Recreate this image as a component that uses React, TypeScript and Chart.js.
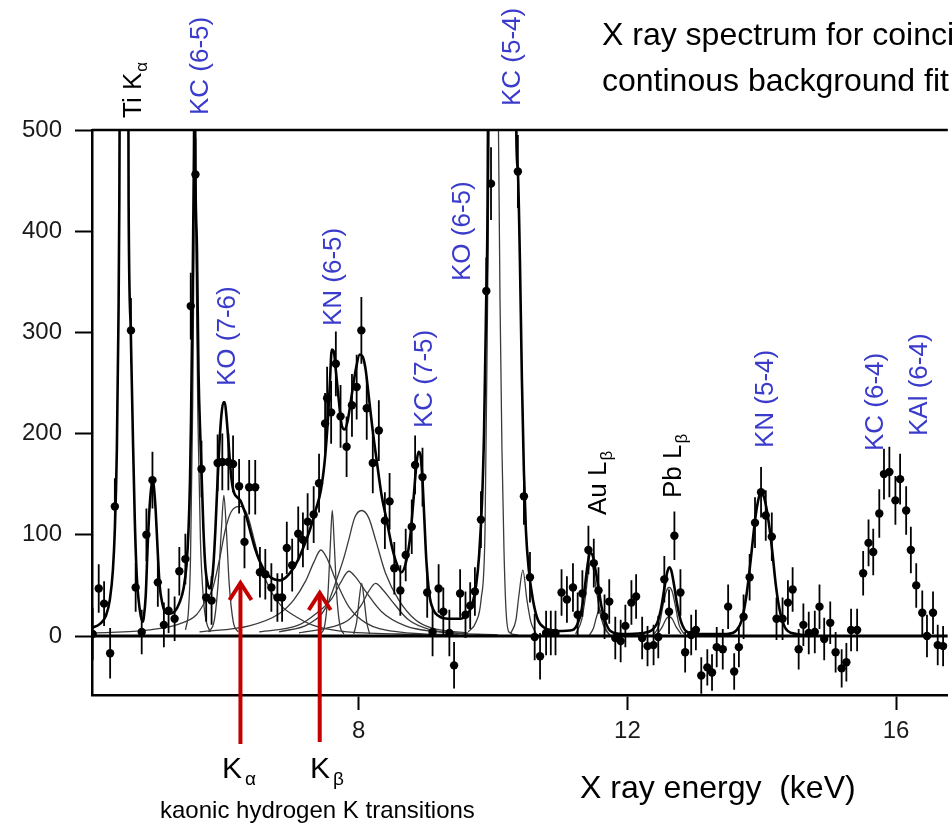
import React, { useEffect, useRef } from 'react';
import { Chart, registerables } from 'chart.js';

Chart.register(...registerables);

const FONT = '"Liberation Sans", Arial, Helvetica, sans-serif';
const BLUE = '#3a3acb';
const RED = '#c40000';

// ---- axes ----
const X_MIN = 4.03;
const X_MAX = 16.77;
const Y_MIN = -58.3;
const Y_MAX = 500;
const xTickValues = [8, 12, 16];
const yTickValues = [0, 100, 200, 300, 400, 500];

// ---- measured spectrum (energy keV, counts, error) ----
const energies = [
  4.04, 4.13, 4.21, 4.30, 4.37, 4.61, 4.68, 4.77, 4.84, 4.93, 5.01, 5.10, 5.17, 5.26, 5.33, 5.42,
  5.50, 5.57, 5.66, 5.73, 5.81, 5.90, 5.97, 6.06, 6.13, 6.22, 6.30, 6.37, 6.46, 6.53, 6.61, 6.70,
  6.79, 6.86, 6.93, 7.01, 7.10, 7.17, 7.24, 7.33, 7.41, 7.50, 7.53, 7.59, 7.66, 7.73, 7.82, 7.90,
  7.97, 8.04, 8.12, 8.21, 8.30, 8.39, 8.46, 8.53, 8.62, 8.70, 8.79, 8.84, 8.95, 9.02, 9.10, 9.19,
  9.26, 9.35, 9.42, 9.51, 9.59, 9.66, 9.73, 9.82, 9.90, 9.97, 10.37, 10.46, 10.55, 10.62, 10.70,
  10.79, 10.86, 10.93, 11.02, 11.10, 11.19, 11.26, 11.33, 11.42, 11.50, 11.57, 11.66, 11.73, 11.82,
  11.90, 11.97, 12.06, 12.13, 12.22, 12.30, 12.39, 12.46, 12.55, 12.62, 12.70, 12.79, 12.86, 12.95,
  13.02, 13.10, 13.19, 13.26, 13.33, 13.42, 13.50, 13.59, 13.66, 13.73, 13.82, 13.90, 13.99, 14.06,
  14.15, 14.22, 14.31, 14.39, 14.46, 14.55, 14.62, 14.70, 14.79, 14.86, 14.93, 15.02, 15.10, 15.19,
  15.26, 15.33, 15.42, 15.51, 15.59, 15.66, 15.75, 15.82, 15.90, 15.99, 16.06, 16.15, 16.22, 16.30,
  16.39, 16.46, 16.55, 16.62, 16.70,
];
const counts = [
  2, 47, 32, -17, 128, 302, 48, 4, 100, 154, 53, 11, 25, 17, 64, 76,
  326, 456, 165, 38, 35, 171, 172, 172, 170, 148, 93, 147, 147, 63, 61, 48,
  38, 38, 87, 70, 101, 95, 113, 120, 151, 210, 235, 221, 269, 217, 187, 228,
  246, 302, 225, 171, 203, 114, 133, 67, 45, 80, 108, 169, 157, 43, 4, 47,
  24, 3, -29, 42, 21, 30, 44, 115, 341, 447, 459, 138, 58, -1, -20,
  3, 3, 3, 43, 36, 48, 21, 42, 85, 72, 45, 19, 34, -2,
  -5, 10, 33, 39, -2, -10, -9, -1, 56, 24, 99, 43, -16, 1,
  6, -39, -31, -36, -11, -13, 29, -35, -11, 19, 58, 112, 142, 119,
  98, 17, 17, 33, 46, -13, 11, 3, 4, 29, -3, 13, -16, -32,
  -26, 6, 6, 62, 92, 83, 121, 160, 162, 134, 155, 124, 85, 50,
  23, 0, 23, -9, -10,
];
const errors = [
  26, 24, 22, 25, 28, 32, 24, 22, 26, 28, 24, 22, 22, 22, 24, 25,
  33, 36, 28, 24, 24, 28, 28, 28, 28, 27, 26, 27, 27, 25, 25, 24,
  24, 24, 26, 26, 27, 27, 28, 28, 29, 30, 31, 31, 32, 31, 30, 31,
  32, 33, 31, 30, 30, 28, 28, 26, 25, 26, 27, 29, 29, 25, 24, 24,
  24, 23, 23, 24, 23, 23, 24, 28, 33, 36, 36, 28, 25, 23, 23,
  22, 22, 22, 23, 23, 24, 22, 23, 24, 24, 23, 22, 22, 21,
  21, 21, 22, 22, 21, 20, 20, 21, 23, 22, 24, 23, 20, 20,
  20, 18, 18, 18, 20, 20, 22, 18, 20, 22, 23, 25, 25, 25,
  24, 21, 21, 22, 22, 20, 21, 21, 21, 22, 21, 21, 20, 19,
  19, 21, 21, 22, 23, 23, 24, 25, 25, 24, 25, 24, 23, 22,
  22, 21, 21, 20, 20,
];

// ---- total fit curve [keV, counts] ----
const totalFit = [
  [4.03, 8], [4.148, 12], [4.237, 20], [4.296, 36], [4.341, 65], [4.37, 105], [4.4, 184], [4.422, 302],
  [4.437, 431], [4.504, 2200], [4.575, 431], [4.607, 302], [4.637, 203], [4.667, 115], [4.696, 60],
  [4.741, 26], [4.785, 14], [4.8, 18], [4.83, 40], [4.859, 90], [4.889, 129], [4.919, 150], [4.933, 152],
  [4.948, 149], [4.978, 124], [5.007, 85], [5.037, 50], [5.081, 31], [5.126, 23], [5.185, 22], [5.259, 24],
  [5.333, 33], [5.393, 47], [5.437, 70], [5.467, 105], [5.489, 154], [5.504, 213], [5.526, 332],
  [5.548, 480], [5.558, 600], [5.57, 456], [5.593, 381], [5.615, 263], [5.644, 194], [5.659, 165],
  [5.689, 105], [5.719, 67], [5.748, 53], [5.778, 47], [5.807, 51], [5.837, 70], [5.867, 105],
  [5.896, 149], [5.926, 189], [5.956, 218], [5.985, 231], [6.007, 231], [6.03, 218], [6.059, 194],
  [6.089, 167], [6.119, 149], [6.148, 141], [6.193, 137], [6.237, 134], [6.281, 127], [6.341, 115],
  [6.4, 100], [6.459, 86], [6.519, 75], [6.593, 65], [6.667, 59], [6.741, 56], [6.83, 55], [6.919, 58],
  [7.007, 65], [7.096, 75], [7.185, 89], [7.274, 105], [7.363, 125], [7.437, 144], [7.496, 174],
  [7.541, 213], [7.57, 248], [7.6, 283], [7.63, 281], [7.659, 263], [7.704, 233], [7.748, 208],
  [7.793, 204], [7.837, 213], [7.896, 238], [7.956, 263], [8.015, 278], [8.059, 276], [8.104, 263],
  [8.148, 238], [8.207, 204], [8.267, 174], [8.341, 139], [8.415, 115], [8.489, 90], [8.563, 72],
  [8.637, 63], [8.711, 75], [8.77, 100], [8.815, 134], [8.859, 169], [8.889, 182], [8.919, 179],
  [8.948, 156], [8.978, 115], [9.007, 75], [9.052, 41], [9.111, 26], [9.185, 20], [9.333, 17],
  [9.481, 17], [9.6, 20], [9.689, 31], [9.748, 50], [9.793, 80], [9.837, 134], [9.867, 204],
  [9.896, 322], [9.919, 431], [9.985, 1500], [10.11, 800], [10.237, 1800], [10.348, 490], [10.37, 459],
  [10.4, 372], [10.43, 253], [10.459, 164], [10.489, 105], [10.533, 65], [10.593, 36], [10.667, 16],
  [10.77, 8], [10.963, 5], [11.185, 6], [11.259, 12], [11.319, 26], [11.363, 46], [11.407, 70],
  [11.444, 82], [11.481, 80], [11.526, 65], [11.57, 48], [11.615, 29], [11.674, 14], [11.748, 5],
  [11.926, 2], [12.222, 3], [12.37, 6], [12.444, 13], [12.504, 28], [12.548, 46], [12.593, 63],
  [12.622, 68], [12.652, 65], [12.696, 50], [12.741, 31], [12.8, 14], [12.889, 4], [13.037, 2],
  [13.481, 2], [13.63, 6], [13.704, 16], [13.763, 36], [13.807, 58], [13.852, 85], [13.896, 112],
  [13.941, 132], [13.985, 142], [14.03, 138], [14.074, 125], [14.119, 105], [14.163, 80], [14.207, 52],
  [14.252, 31], [14.311, 14], [14.385, 5], [14.519, 2], [14.741, 0],
];

// ---- individual fit components [keV, counts] ----
const compKC65 = [[5.422, 6], [5.467, 26], [5.496, 75], [5.526, 213], [5.548, 381], [5.558, 560], [5.578, 381], [5.607, 213], [5.644, 95], [5.689, 36], [5.733, 14], [5.793, 4]];
const compKO76 = [[5.763, 4], [5.852, 16], [5.911, 55], [5.956, 105], [5.993, 139], [6.03, 105], [6.074, 50], [6.133, 14], [6.207, 4]];
const compKHa = [[4.03, 3], [4.889, 6], [5.333, 12], [5.585, 21], [5.733, 36], [5.822, 46], [5.926, 75], [6.015, 105], [6.104, 123], [6.237, 128], [6.341, 120], [6.444, 95], [6.563, 65], [6.696, 44], [6.844, 30], [7.067, 19], [7.304, 11], [7.704, 5], [8.593, 2], [10.07, 0]];
const compKHb = [[5.63, 4], [6.37, 10], [6.815, 22], [7.037, 36], [7.215, 55], [7.333, 73], [7.437, 85], [7.541, 75], [7.659, 55], [7.852, 29], [8.104, 13], [8.593, 4], [9.481, 1]];
const compKN65 = [[7.437, 2], [7.496, 11], [7.541, 40], [7.578, 90], [7.607, 124], [7.637, 90], [7.674, 40], [7.719, 11], [7.778, 2]];
const compB = [[6.519, 4], [7.111, 11], [7.363, 22], [7.6, 37], [7.733, 53], [7.852, 64], [7.97, 57], [8.104, 44], [8.341, 24], [8.696, 10], [9.185, 4], [10.07, 1]];
const compC = [[6.815, 4], [7.259, 12], [7.511, 28], [7.704, 62], [7.778, 77], [7.852, 95], [7.941, 117], [8.044, 124], [8.148, 117], [8.252, 95], [8.4, 62], [8.593, 36], [8.844, 16], [9.081, 8], [9.63, 3]];
const compNarrow8 = [[7.926, 2], [7.97, 14], [8.007, 36], [8.044, 52], [8.081, 36], [8.119, 14], [8.163, 2]];
const compD = [[7.111, 3], [7.6, 9], [7.852, 16], [8.044, 31], [8.148, 44], [8.252, 52], [8.356, 46], [8.489, 35], [8.741, 16], [9.081, 6], [9.63, 2]];
const compKO65 = [[9.63, 4], [9.748, 14], [9.822, 36], [9.881, 105], [9.919, 332], [9.941, 500], [9.993, 1400], [10.081, 500], [10.104, 332], [10.133, 184], [10.163, 85], [10.193, 26], [10.237, 4], [10.37, 1]];
const compSmall = [[10.267, 3], [10.341, 16], [10.385, 40], [10.444, 65], [10.504, 36], [10.563, 14], [10.637, 3]];
const compAu1 = [[11.23, 2], [11.319, 16], [11.378, 40], [11.422, 65], [11.452, 72], [11.496, 65], [11.541, 44], [11.6, 21], [11.674, 6], [11.748, 1]];
const compAu2 = [[11.437, 1], [11.496, 8], [11.541, 19], [11.585, 26], [11.63, 19], [11.674, 8], [11.733, 1]];
const compPb1 = [[12.4, 2], [12.474, 11], [12.533, 31], [12.578, 44], [12.622, 48], [12.667, 44], [12.711, 31], [12.77, 11], [12.844, 2]];
const compPb2 = [[12.444, 2], [12.519, 9], [12.578, 17], [12.622, 19], [12.667, 17], [12.726, 9], [12.8, 2]];

const components = [compKC65, compKO76, compKHa, compKHb, compKN65, compB, compC, compNarrow8, compD, compKO65, compSmall, compAu1, compAu2, compPb1, compPb2];

// ---- annotations ----
type Lbl = { main: string; sub?: string; x: number; y: number; color: string };
const peakLabels: Lbl[] = [
  { main: 'Ti K', sub: 'α', x: 141, y: 118, color: '#000' },
  { main: 'KC (6-5)', x: 208, y: 115, color: BLUE },
  { main: 'KO (7-6)', x: 235, y: 386, color: BLUE },
  { main: 'KN (6-5)', x: 341, y: 326, color: BLUE },
  { main: 'KC (7-5)', x: 432, y: 428, color: BLUE },
  { main: 'KO (6-5)', x: 470, y: 281, color: BLUE },
  { main: 'KC (5-4)', x: 520, y: 106, color: BLUE },
  { main: 'Au L', sub: 'β', x: 606, y: 515, color: '#000' },
  { main: 'Pb L', sub: 'β', x: 681, y: 498, color: '#000' },
  { main: 'KN (5-4)', x: 773, y: 448, color: BLUE },
  { main: 'KC (6-4)', x: 883, y: 451, color: BLUE },
  { main: 'KAl (6-4)', x: 927, y: 436, color: BLUE },
];
const arrowEnergies = [6.24, 7.42];
const arrowTips = [583, 593];
const arrowBottoms = [744, 742];

const toXY = (arr: number[][]) => arr.map(([x, y]) => ({ x, y }));

function rotLabel(ctx: CanvasRenderingContext2D, l: Lbl) {
  ctx.save();
  ctx.translate(l.x, l.y);
  ctx.rotate(-Math.PI / 2);
  ctx.fillStyle = l.color;
  ctx.textAlign = 'left';
  ctx.textBaseline = 'alphabetic';
  ctx.font = `26px ${FONT}`;
  ctx.fillText(l.main, 0, 0);
  if (l.sub) {
    const w = ctx.measureText(l.main).width;
    ctx.font = `17px ${FONT}`;
    ctx.fillText(l.sub, w + 1, 6);
  }
  ctx.restore();
}

const errorBarPlugin = {
  id: 'errorBars',
  afterDatasetsDraw(chart: any) {
    const { ctx, chartArea, scales } = chart;
    const xs = scales.x, ys = scales.y;
    ctx.save();
    ctx.beginPath();
    ctx.rect(chartArea.left, chartArea.top, chartArea.right - chartArea.left, chartArea.bottom - chartArea.top);
    ctx.clip();
    ctx.strokeStyle = '#000';
    ctx.lineWidth = 1.8;
    energies.forEach((e, i) => {
      const px = xs.getPixelForValue(e);
      ctx.beginPath();
      ctx.moveTo(px, ys.getPixelForValue(counts[i] - errors[i]));
      ctx.lineTo(px, ys.getPixelForValue(counts[i] + errors[i]));
      ctx.stroke();
    });
    ctx.restore();
  },
};

const annotationPlugin = {
  id: 'annotations',
  afterDraw(chart: any) {
    const { ctx, chartArea, scales } = chart;
    const xs = scales.x;
    ctx.save();
    // top frame line
    ctx.strokeStyle = '#000';
    ctx.lineWidth = 2.5;
    ctx.beginPath();
    ctx.moveTo(chartArea.left, chartArea.top);
    ctx.lineTo(chartArea.right, chartArea.top);
    ctx.stroke();

    // title
    ctx.fillStyle = '#000';
    ctx.font = `32px ${FONT}`;
    ctx.textAlign = 'left';
    ctx.textBaseline = 'alphabetic';
    ctx.fillText('X ray spectrum for coincidence', 602, 45);
    ctx.fillText('continous background fit subtracted', 602, 91);

    // peak labels
    peakLabels.forEach((l) => rotLabel(ctx, l));

    // red arrows
    ctx.strokeStyle = RED;
    ctx.lineWidth = 4;
    ctx.lineCap = 'butt';
    ctx.lineJoin = 'miter';
    arrowEnergies.forEach((e, i) => {
      const px = xs.getPixelForValue(e);
      ctx.beginPath();
      ctx.moveTo(px, arrowBottoms[i]);
      ctx.lineTo(px, arrowTips[i] + 2);
      ctx.stroke();
      ctx.beginPath();
      ctx.moveTo(px - 11, arrowTips[i] + 17);
      ctx.lineTo(px, arrowTips[i]);
      ctx.lineTo(px + 11, arrowTips[i] + 17);
      ctx.stroke();
    });

    // K alpha / K beta labels
    ctx.fillStyle = '#000';
    ctx.font = `30px ${FONT}`;
    ctx.fillText('K', 222, 778);
    ctx.fillText('K', 310, 778);
    ctx.font = `19px ${FONT}`;
    ctx.fillText('α', 245, 785);
    ctx.fillText('β', 333, 785);
    ctx.font = `24px ${FONT}`;
    ctx.fillText('kaonic hydrogen K transitions', 160, 818);

    // axis title
    ctx.font = `32px ${FONT}`;
    ctx.fillText('X ray energy  (keV)', 580, 798);
    ctx.restore();
  },
};

export default function App() {
  const ref = useRef<HTMLCanvasElement | null>(null);

  useEffect(() => {
    if (!ref.current) return;
    const lineBase = {
      showLine: true,
      pointRadius: 0,
      pointHoverRadius: 0,
      cubicInterpolationMode: 'monotone',
      capBezierPoints: false,
      fill: false,
    };
    const datasets: any[] = [
      ...components.map((c) => ({
        ...lineBase,
        data: toXY(c),
        borderColor: '#3a3a3a',
        borderWidth: 1.3,
        order: 3,
      })),
      {
        ...lineBase,
        data: toXY([[X_MIN, 0], [X_MAX, 0]]),
        borderColor: '#000',
        borderWidth: 3,
        order: 2,
      },
      {
        ...lineBase,
        data: toXY(totalFit),
        borderColor: '#000',
        borderWidth: 2.6,
        order: 1,
      },
      {
        data: energies.map((e, i) => ({ x: e, y: counts[i] })),
        showLine: false,
        pointRadius: 4.2,
        pointBackgroundColor: '#000',
        pointBorderColor: '#000',
        pointBorderWidth: 0,
        order: 0,
      },
    ];

    const chart = new Chart(ref.current, {
      type: 'scatter',
      data: { datasets },
      options: {
        animation: false,
        responsive: false,
        devicePixelRatio: 1,
        events: [],
        layout: { padding: { top: 130, right: 0, left: 0, bottom: 0 } },
        plugins: { legend: { display: false }, tooltip: { enabled: false } },
        scales: {
          x: {
            type: 'linear',
            min: X_MIN,
            max: X_MAX,
            afterBuildTicks: (axis: any) => {
              axis.ticks = xTickValues.map((v) => ({ value: v }));
            },
            afterFit: (axis: any) => {
              axis.height = 130;
            },
            ticks: {
              autoSkip: false,
              maxRotation: 0,
              padding: 7,
              color: '#1a1a1a',
              font: { family: FONT, size: 24 },
              callback: (v: any) => String(v),
            },
            grid: {
              drawOnChartArea: false,
              drawTicks: true,
              tickLength: 15,
              tickWidth: 2,
              tickColor: '#000',
            },
            border: { display: true, color: '#000', width: 2.5 },
          },
          y: {
            type: 'linear',
            min: Y_MIN,
            max: Y_MAX,
            afterBuildTicks: (axis: any) => {
              axis.ticks = yTickValues.map((v) => ({ value: v }));
            },
            afterFit: (axis: any) => {
              axis.width = 92;
            },
            ticks: {
              padding: 13,
              color: '#1a1a1a',
              font: { family: FONT, size: 24 },
              callback: (v: any) => String(v),
            },
            grid: {
              drawOnChartArea: false,
              drawTicks: true,
              tickLength: 17,
              tickWidth: 2,
              tickColor: '#000',
            },
            border: { display: true, color: '#000', width: 2.5 },
          },
        },
      } as any,
      plugins: [errorBarPlugin, annotationPlugin],
    });
    return () => chart.destroy();
  }, []);

  return (
    <div style={{ position: 'absolute', left: 0, top: 0, width: 952, height: 825, background: '#fff' }}>
      <canvas ref={ref} width={952} height={825} style={{ width: '952px', height: '825px', display: 'block' }} />
    </div>
  );
}
